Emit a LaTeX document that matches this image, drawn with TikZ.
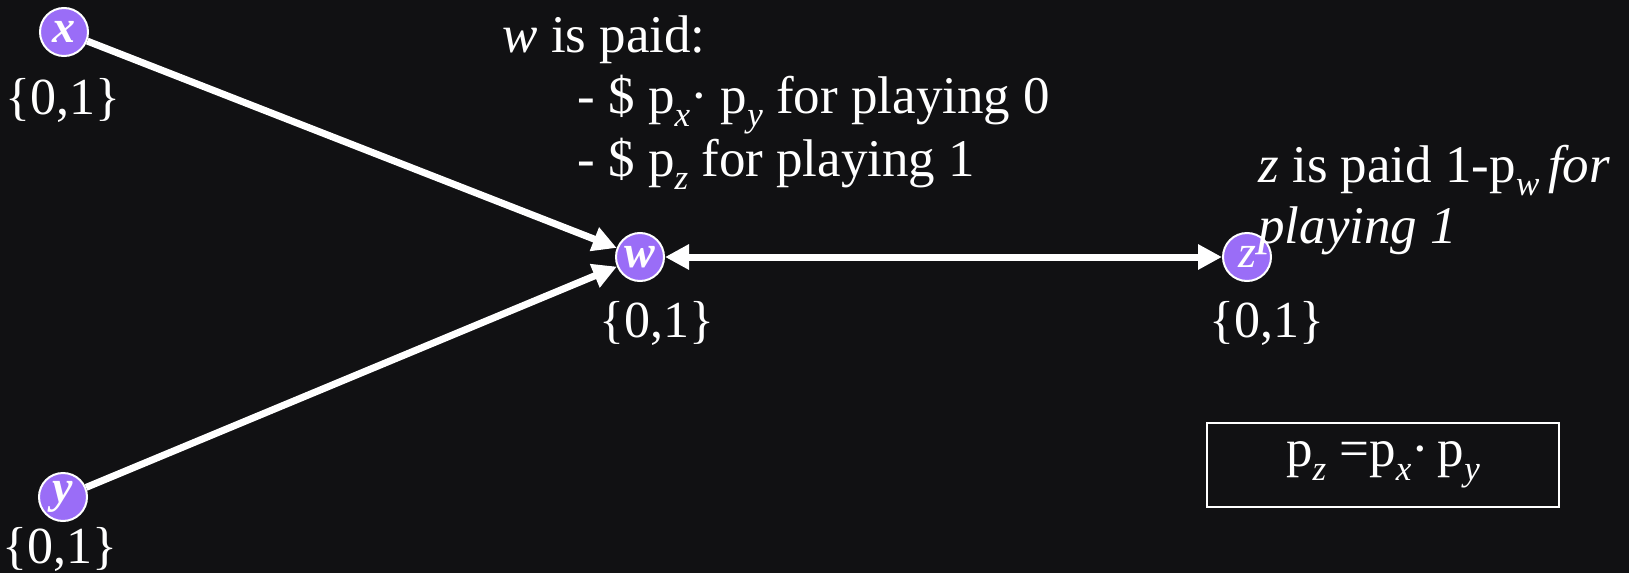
\documentclass[tikz,border=0pt]{standalone}
\usepackage{fontspec}
\setmainfont{Liberation Serif}
\usetikzlibrary{arrows.meta}
\definecolor{bg}{HTML}{111113}
\definecolor{nodepurple}{HTML}{9A6DF7}
\newcommand\mysub[1]{\raisebox{-0.26em}{\fontsize{17.5}{17.5}\selectfont\textit{#1}}}
\begin{document}
\begin{tikzpicture}[x=0.5pt,y=-0.5pt,
  player/.style={circle,fill=nodepurple,draw=white,line width=1pt,minimum size=24pt,inner sep=0pt,text=white,font=\fontsize{23}{23}\selectfont\bfseries\itshape},
  lbl/.style={text=white,font=\fontsize{26}{28}\selectfont,inner sep=0pt},
  conn/.style={draw=white,line width=3.5pt,-{Triangle[length=12pt,width=12pt]}},
  txt/.style={text=white,font=\fontsize{26.5}{28}\selectfont,inner sep=0pt,anchor=base west}]
\fill[bg] (0,0) rectangle (1629,573);
\useasboundingbox (0,0) rectangle (1629,573);
\node[player] (x) at (64,32) {x};
\node[player] (y) at (63,497) {y};
\node[player] (w) at (640,257) {w};
\node[player,font=\fontsize{23}{23}\selectfont\itshape] (z) at (1247,257) {z};
\node[lbl] (lx) at (63,100) {\{0,1\}};
\node[lbl] (ly) at (60,549) {\{0,1\}};
\node[lbl] (lw) at (657,323) {\{0,1\}};
\node[lbl] (lz) at (1267,323) {\{0,1\}};
\draw[conn] (x) -- (w);
\draw[conn] (y) -- (w);
\draw[conn,{Triangle[length=12pt,width=12pt]}-{Triangle[length=12pt,width=12pt]}] (w) -- (z);
\node[txt] (t1) at (502,52) {\textit{w} is paid:};
\node[txt] (t2) at (577,113) {- \$ p\mysub{x}· p\mysub{y} for playing 0};
\node[txt] (t3) at (577,176) {- \$ p\mysub{z} for playing 1};
\node[txt] (t4) at (1258,182) {\textit{z} is paid 1-p\mysub{w}\,\textit{for}};
\node[txt] (t5) at (1258,243) {\textit{playing 1}};
\node[draw=white,line width=1pt,minimum width=176pt,minimum height=42pt,text=white,font=\fontsize{26.5}{28}\selectfont] (box) at (1383,465) {\raisebox{-6pt}{p\mysub{z} =p\mysub{x}·\,p\mysub{y}}};
\end{tikzpicture}
\end{document}
